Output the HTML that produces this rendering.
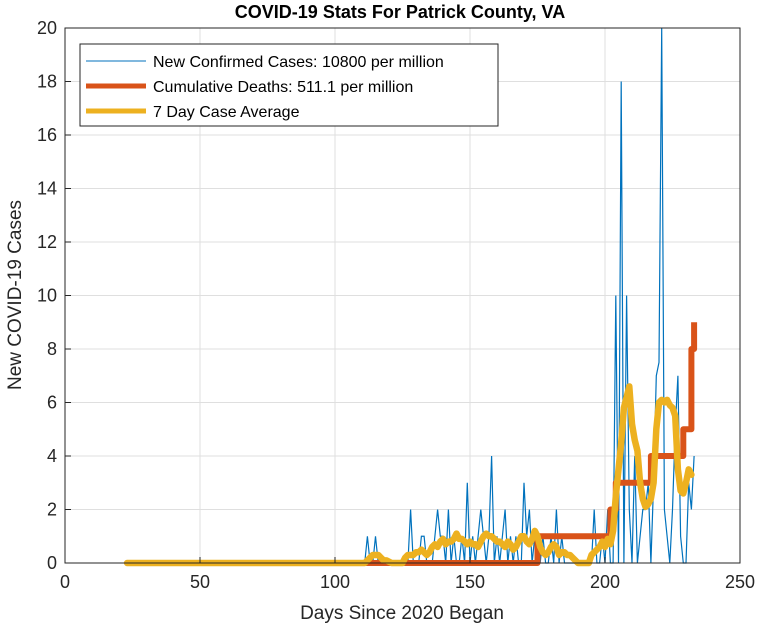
<!DOCTYPE html>
<html><head><meta charset="utf-8"><style>
body{margin:0;background:#fff;font-family:"Liberation Sans",Arial,sans-serif}
svg text{font-family:"Liberation Sans",Arial,sans-serif}
</style></head><body>
<svg id="c" width="761" height="630" xmlns="http://www.w3.org/2000/svg">
<rect width="761" height="630" fill="#fff"/>
<g id="grid"></g><g id="series"></g><g id="axes"></g>
<text x="400" y="18" text-anchor="middle" font-size="18" font-weight="bold">COVID-19 Stats For Patrick County, VA</text>
<text x="402" y="619" text-anchor="middle" font-size="19" fill="#262626">Days Since 2020 Began</text>
<text transform="translate(21,295) rotate(-90)" text-anchor="middle" font-size="19" fill="#262626">New COVID-19 Cases</text>
<g>
<rect x="80" y="44" width="418" height="82" fill="#fff" stroke="#262626" stroke-width="1"/>
<g><line x1="86" y1="61" x2="146" y2="61" stroke="#0072bd" stroke-width="1"/><text x="153" y="67" font-size="16">New Confirmed Cases: 10800 per million</text></g>
<g><line x1="86" y1="86" x2="146" y2="86" stroke="#d95319" stroke-width="5"/><text x="153" y="92" font-size="16">Cumulative Deaths: 511.1 per million</text></g>
<g><line x1="86" y1="111" x2="146" y2="111" stroke="#edb120" stroke-width="5"/><text x="153" y="117" font-size="16">7 Day Case Average</text></g>
</g>
</svg>
<script>
const xTicks=[0,50,100,150,200,250];
const yTicks=[0,2,4,6,8,10,12,14,16,18,20];
const casesStart=23;
const cases=[0,0,0,0,0,0,0,0,0,0,0,0,0,0,0,0,0,0,0,0,0,0,0,0,0,0,0,0,0,0,0,0,0,0,0,0,0,0,0,0,0,0,0,0,0,0,0,0,0,0,0,0,0,0,0,0,0,0,0,0,0,0,0,0,0,0,0,0,0,0,0,0,0,0,0,0,0,0,0,0,0,0,0,0,0,0,0,0,0,
1,0,0,1,0,0,0,0,0,0,0,0,0,0,0,0,2,0,0,0,1,1,0,0,0,1,2,1,1,0,2,0,1,0,0,1,0,3,0,1,0,1,2,1,0,1,4,0,1,0,1,2,0,1,0,1,0,0,3,1,2,0,1,1,0,1,0,0,1,0,2,0,1,0,0,0,0,0,0,0,0,0,0,0,2,0,0,1,0,2,0,0,10,0,18,0,10,2,0,4,0,1,2,2,3,0,3,7,7.5,20,2,1,0,2,5,7,1,0,0,3,2,4];
const deathDays=[23,175,202,204,217,229,232,233];
const deathVals=[0,1,2,3,4,5,8,9];
const avgStart=108;
const avgVals=[0,0,0,0,0.1,0.2,0.3,0.3,0.3,0.2,0.1,0.1,0.05,0,0,0,0,0,0.2,0.3,0.3,0.3,0.4,0.4,0.5,0.4,0.3,0.4,0.6,0.7,0.6,0.8,0.9,0.7,0.8,0.8,0.9,1.1,0.9,0.9,0.8,0.7,0.8,0.7,0.7,0.6,0.8,1.0,1.1,1.0,1.0,0.9,0.8,0.8,0.7,0.6,0.8,0.7,0.5,0.6,0.8,1.0,1.0,0.8,0.7,0.9,1.2,1.0,0.6,0.4,0.3,0.4,0.6,0.7,0.6,0.3,0.4,0.4,0.3,0.3,0.2,0.1,0,0,0,0,0,0.3,0.4,0.5,0.6,0.8,0.6,0.9,0.7,1.2,2.5,3.5,4.5,5.8,6.2,6.6,5.2,4.6,4.2,3.0,2.4,2.1,2.2,2.4,3.0,5.0,6.0,6.1,6.0,6.1,5.9,5.8,5.5,3.5,2.7,2.6,3.0,3.5,3.3];
const avgPre=23;

const L=65,R=740,T=28,B=563;
const X=v=>L+(v-0)/250*(R-L);
const Y=v=>B-(v-0)/20*(B-T);
const NS="http://www.w3.org/2000/svg";
function mk(tag,parent,attrs){const e=document.createElementNS(NS,tag);for(const k in attrs)e.setAttribute(k,attrs[k]);parent.appendChild(e);return e;}
const grid=document.getElementById('grid'),axes=document.getElementById('axes'),ser=document.getElementById('series');
mk('rect',grid,{x:L,y:T,width:R-L,height:B-T,fill:'#fff'});
xTicks.forEach(t=>{
 const g=mk('line',grid,{x1:X(t),x2:X(t),y1:T,y2:B,stroke:'#dfdfdf','stroke-width':1});
 
 
 mk('line',axes,{x1:X(t),x2:X(t),y1:B,y2:B-6,stroke:'#262626'});
 const tx=mk('text',axes,{x:X(t),y:B+25,'text-anchor':'middle','font-size':18,fill:'#262626'});
 tx.textContent=t;
 
 
});
yTicks.forEach(t=>{
 const g=mk('line',grid,{x1:L,x2:R,y1:Y(t),y2:Y(t),stroke:'#dfdfdf','stroke-width':1});
 
 
 mk('line',axes,{x1:L,x2:L+6,y1:Y(t),y2:Y(t),stroke:'#262626'});
 const tx=mk('text',axes,{x:L-8,y:Y(t)+6,'text-anchor':'end','font-size':18,fill:'#262626'});
 tx.textContent=t;
 
 
});
mk('rect',axes,{x:L,y:T,width:R-L,height:B-T,fill:'none',stroke:'#262626','stroke-width':1});

let p=cases.map((v,i)=>X(casesStart+i)+','+Y(v)).join(' ');
const cl=mk('polyline',ser,{points:p,fill:'none',stroke:'#0072bd','stroke-width':1.2});



let dp=[];
deathDays.forEach((d,i)=>{ if(i>0) dp.push(X(d)+','+Y(deathVals[i-1])); dp.push(X(d)+','+Y(deathVals[i])); });
const dl=mk('polyline',ser,{points:dp.join(' '),fill:'none',stroke:'#d95319','stroke-width':6,'stroke-linejoin':'round'});



let ap=[X(avgPre)+','+Y(0)].concat(avgVals.map((v,i)=>X(avgStart+i)+','+Y(v)));
const al=mk('polyline',ser,{points:ap.join(' '),fill:'none',stroke:'#edb120','stroke-width':6.5,'stroke-linejoin':'round','stroke-linecap':'round'});


</script>
</body></html>
